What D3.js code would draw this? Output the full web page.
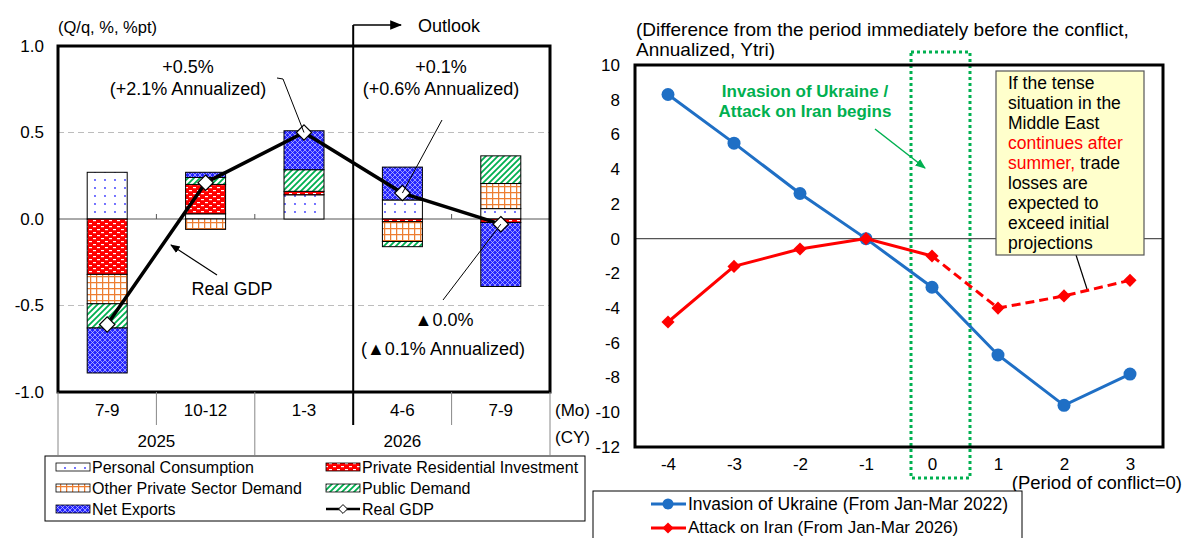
<!DOCTYPE html>
<html>
<head>
<meta charset="utf-8">
<script src="https://cdn.jsdelivr.net/npm/d3@7"></script>
<style>
  body { margin: 0; background: #fff; }
  svg { font-family: "Liberation Sans", Arial, sans-serif; }
</style>
</head>
<body>
<svg id="chart" width="1183" height="538"></svg>
<script>
// ---- left chart data (Q/q, %, %pt) ----
const quarters = ["7-9", "10-12", "1-3", "4-6", "7-9"];
const years = [{label: "2025", from: 0, to: 2}, {label: "2026", from: 2, to: 5}];
const personal     = [0.27, 0.03, 0.14, 0.11, 0.06];
const residential  = [-0.32, 0.17, 0.02, -0.015, -0.02];
const otherPrivate = [-0.17, -0.06, 0.0, -0.115, 0.145];
const publicDemand = [-0.14, 0.04, 0.125, -0.03, 0.16];
const netExports   = [-0.26, 0.03, 0.225, 0.19, -0.37];
const realGDP      = [-0.61, 0.21, 0.5, 0.15, -0.03];
const leftTicks = [1.0, 0.5, 0.0, -0.5, -1.0];

// ---- right chart data (Ytri) ----
const periods = [-4, -3, -2, -1, 0, 1, 2, 3];
const ukraine = [8.3, 5.5, 2.6, 0, -2.8, -6.7, -9.6, -7.8];
const iran    = [-4.8, -1.6, -0.6, 0, -1.0, -4.0, -3.3, -2.4];
const rightTicks = [10, 8, 6, 4, 2, 0, -2, -4, -6, -8, -10, -12];

const svg = d3.select("#chart");
const defs = svg.append("defs");

// fill patterns
const pDots = defs.append("pattern").attr("id", "pDots").attr("patternUnits", "userSpaceOnUse")
  .attr("width", 10).attr("height", 8);
pDots.append("rect").attr("width", 10).attr("height", 8).attr("fill", "#fff");
pDots.append("circle").attr("cx", 5).attr("cy", 4).attr("r", 0.9).attr("fill", "#3333ff");

const pRed = defs.append("pattern").attr("id", "pRed").attr("patternUnits", "userSpaceOnUse")
  .attr("width", 8).attr("height", 6);
pRed.append("rect").attr("width", 8).attr("height", 6).attr("fill", "#ff0000");
pRed.append("rect").attr("x", 1).attr("y", 1).attr("width", 3).attr("height", 1.2).attr("fill", "#fff");
pRed.append("rect").attr("x", 5).attr("y", 4).attr("width", 3).attr("height", 1.2).attr("fill", "#fff");

const pGrid = defs.append("pattern").attr("id", "pGrid").attr("patternUnits", "userSpaceOnUse")
  .attr("width", 6).attr("height", 6);
pGrid.append("rect").attr("width", 6).attr("height", 6).attr("fill", "#fff");
pGrid.append("path").attr("d", "M0,0.6H6M0.6,0V6").attr("stroke", "#ed7d31").attr("stroke-width", 1.3);

const pDiag = defs.append("pattern").attr("id", "pDiag").attr("patternUnits", "userSpaceOnUse")
  .attr("width", 6).attr("height", 6);
pDiag.append("rect").attr("width", 6).attr("height", 6).attr("fill", "#fff");
pDiag.append("path").attr("d", "M-1,1L1,-1M0,6L6,0M5,7L7,5").attr("stroke", "#00b050").attr("stroke-width", 1.8);

const pBlue = defs.append("pattern").attr("id", "pBlue").attr("patternUnits", "userSpaceOnUse")
  .attr("width", 5).attr("height", 5);
pBlue.append("rect").attr("width", 5).attr("height", 5).attr("fill", "#2626ff");
pBlue.append("path").attr("d", "M0,0L5,5M5,0L0,5").attr("stroke", "#c8c8ff").attr("stroke-width", 0.7);

const arrowBlack = defs.append("marker").attr("id", "arrB").attr("viewBox", "0 0 10 10")
  .attr("refX", 9).attr("refY", 5).attr("markerWidth", 8).attr("markerHeight", 8)
  .attr("orient", "auto-start-reverse");
arrowBlack.append("path").attr("d", "M0,1L10,5L0,9z").attr("fill", "#000");
const arrowGreen = defs.append("marker").attr("id", "arrG").attr("viewBox", "0 0 10 10")
  .attr("refX", 9).attr("refY", 5).attr("markerWidth", 7).attr("markerHeight", 7)
  .attr("orient", "auto");
arrowGreen.append("path").attr("d", "M0,1L10,5L0,9z").attr("fill", "#00b050");

// ================= LEFT CHART =================
const L = {left: 58, right: 550, top: 46, bottom: 392};
const x = d3.scaleBand().domain(d3.range(quarters.length)).range([L.left, L.right]);
const y = d3.scaleLinear().domain([-1, 1]).range([L.bottom, L.top]);
const barW = 40;

const left = svg.append("g");

// gridlines
left.selectAll(".grid").data([0.5, -0.5]).join("line")
  .attr("x1", L.left).attr("x2", L.right).attr("y1", d => y(d)).attr("y2", d => y(d))
  .attr("stroke", "#bdbdbd").attr("stroke-width", 1.2).attr("stroke-dasharray", "6,4");
left.append("line").attr("x1", L.left).attr("x2", L.right).attr("y1", y(0)).attr("y2", y(0))
  .attr("stroke", "#555").attr("stroke-width", 1);
left.selectAll(".tk").data(d3.range(1, quarters.length)).join("line")
  .attr("x1", d => x(d)).attr("x2", d => x(d)).attr("y1", y(0)).attr("y2", y(0) - 5)
  .attr("stroke", "#555");

// stacked bars
const keys = ["personal", "residential", "otherPrivate", "publicDemand", "netExports"];
const fills = {personal: "url(#pDots)", residential: "url(#pRed)", otherPrivate: "url(#pGrid)",
               publicDemand: "url(#pDiag)", netExports: "url(#pBlue)"};
const rows = quarters.map((q, i) => ({i, personal: personal[i], residential: residential[i],
  otherPrivate: otherPrivate[i], publicDemand: publicDemand[i], netExports: netExports[i]}));
const stacked = d3.stack().keys(keys).offset(d3.stackOffsetDiverging)(rows);

left.selectAll(".layer").data(stacked).join("g")
  .attr("fill", d => fills[d.key])
  .selectAll("rect").data(d => d.filter(s => Math.abs(s[1] - s[0]) > 0.001)).join("rect")
  .attr("x", d => x(d.data.i) + x.bandwidth() / 2 - barW / 2)
  .attr("width", barW)
  .attr("y", d => y(Math.max(d[0], d[1])))
  .attr("height", d => Math.abs(y(d[0]) - y(d[1])))
  .attr("stroke", "#000").attr("stroke-width", 1);

// Real GDP line
const gdpLine = d3.line().x((d, i) => x(i) + x.bandwidth() / 2).y(d => y(d));
left.append("path").datum(realGDP).attr("d", gdpLine)
  .attr("fill", "none").attr("stroke", "#000").attr("stroke-width", 3.5);
left.selectAll(".dia").data(realGDP).join("path")
  .attr("d", d3.symbol(d3.symbolDiamond2, 150))
  .attr("transform", (d, i) => `translate(${x(i) + x.bandwidth() / 2},${y(d)})`)
  .attr("fill", "#fff").attr("stroke", "#000").attr("stroke-width", 1.2);

// frame
left.append("rect").attr("x", L.left).attr("y", L.top)
  .attr("width", L.right - L.left).attr("height", L.bottom - L.top)
  .attr("fill", "none").attr("stroke", "#000").attr("stroke-width", 3);

// y axis labels
const yAxis = left.append("g").attr("transform", `translate(${L.left},0)`)
  .call(d3.axisLeft(y).tickValues(leftTicks).tickSize(0).tickPadding(14).tickFormat(d => d.toFixed(1)));
yAxis.select(".domain").remove();
yAxis.selectAll("text").attr("font-size", 17).attr("fill", "#000").style("font-family", "Liberation Sans, Arial");
left.append("text").attr("x", 58).attr("y", 33).attr("font-size", 16.5).text("(Q/q, %, %pt)");

// category table
const catG = left.append("g");
catG.selectAll(".sep").data(d3.range(0, quarters.length + 1)).join("line")
  .attr("x1", d => x(d) === undefined ? L.right : x(d)).attr("x2", d => x(d) === undefined ? L.right : x(d))
  .attr("y1", L.bottom).attr("y2", d => (d === 0 || d === 2 || d === quarters.length) ? 455 : 425)
  .attr("stroke", "#888").attr("stroke-width", 1);
catG.selectAll(".q").data(quarters).join("text")
  .attr("x", (d, i) => x(i) + x.bandwidth() / 2).attr("y", 416)
  .attr("text-anchor", "middle").attr("font-size", 17).text(d => d);
catG.selectAll(".yr").data(years).join("text")
  .attr("x", d => (x(d.from) + (d.to < quarters.length ? x(d.to) : L.right)) / 2).attr("y", 447)
  .attr("text-anchor", "middle").attr("font-size", 17).text(d => d.label);
left.append("text").attr("x", 555).attr("y", 416).attr("font-size", 17).text("(Mo)");
left.append("text").attr("x", 555).attr("y", 443).attr("font-size", 17).text("(CY)");

// outlook divider
const divX = x(3);
left.append("line").attr("x1", divX).attr("x2", divX).attr("y1", 25).attr("y2", 425)
  .attr("stroke", "#000").attr("stroke-width", 2);
left.append("line").attr("x1", divX).attr("x2", 401).attr("y1", 25).attr("y2", 25)
  .attr("stroke", "#000").attr("stroke-width", 1.5).attr("marker-end", "url(#arrB)");
left.append("text").attr("x", 418).attr("y", 32).attr("font-size", 18).text("Outlook");

// annotations
const ann = left.append("g").attr("font-size", 18).attr("text-anchor", "middle");
ann.append("text").attr("x", 188).attr("y", 73).text("+0.5%");
ann.append("text").attr("x", 188).attr("y", 95).text("(+2.1% Annualized)");
ann.append("path").attr("d", `M277,78L283,79L${x(2) + x.bandwidth() / 2},${y(realGDP[2])}`)
  .attr("fill", "none").attr("stroke", "#000").attr("stroke-width", 1);
ann.append("text").attr("x", 441).attr("y", 73).text("+0.1%");
ann.append("text").attr("x", 441).attr("y", 95).text("(+0.6% Annualized)");
ann.append("line").attr("x1", 442).attr("y1", 120).attr("x2", x(3) + x.bandwidth() / 2).attr("y2", y(realGDP[3]))
  .attr("stroke", "#000").attr("stroke-width", 1);
ann.append("text").attr("x", 232).attr("y", 295).text("Real GDP");
ann.append("line").attr("x1", 217).attr("y1", 275).attr("x2", 171).attr("y2", 245)
  .attr("stroke", "#000").attr("stroke-width", 1.2).attr("marker-end", "url(#arrB)");
ann.append("text").attr("x", 444).attr("y", 326).text("▲0.0%");
ann.append("text").attr("x", 443).attr("y", 355).text("(▲0.1% Annualized)");
ann.append("line").attr("x1", 443).attr("y1", 300).attr("x2", x(4) + x.bandwidth() / 2).attr("y2", y(realGDP[4]))
  .attr("stroke", "#000").attr("stroke-width", 1);

// left legend
const lg = left.append("g");
lg.append("rect").attr("x", 45).attr("y", 456).attr("width", 540).attr("height", 65)
  .attr("fill", "#fff").attr("stroke", "#000").attr("stroke-width", 1);
const legItems = [
  {label: "Personal Consumption", fill: fills.personal, col: 0, row: 0},
  {label: "Private Residential Investment", fill: fills.residential, col: 1, row: 0},
  {label: "Other Private Sector Demand", fill: fills.otherPrivate, col: 0, row: 1},
  {label: "Public Demand", fill: fills.publicDemand, col: 1, row: 1},
  {label: "Net Exports", fill: fills.netExports, col: 0, row: 2},
  {label: "Real GDP", fill: null, col: 1, row: 2}
];
const legX = [56, 326], legY = [467, 488, 509];
legItems.forEach(d => {
  const gx = legX[d.col], gy = legY[d.row];
  if (d.fill) {
    lg.append("rect").attr("x", gx).attr("y", gy - 4).attr("width", 34).attr("height", 8)
      .attr("fill", d.fill).attr("stroke", "#000").attr("stroke-width", 0.8);
  } else {
    lg.append("line").attr("x1", gx).attr("x2", gx + 34).attr("y1", gy).attr("y2", gy)
      .attr("stroke", "#000").attr("stroke-width", 2.5);
    lg.append("path").attr("d", d3.symbol(d3.symbolDiamond2, 50))
      .attr("transform", `translate(${gx + 17},${gy})`).attr("fill", "#fff").attr("stroke", "#000");
  }
  lg.append("text").attr("x", gx + 36).attr("y", gy + 6).attr("font-size", 16).text(d.label);
});

// ================= RIGHT CHART =================
const R = {left: 635, right: 1163, top: 65, bottom: 447};
const xr = d3.scalePoint().domain(periods).range([R.left, R.right]).padding(0.5);
const yr = d3.scaleLinear().domain([-12, 10]).range([R.bottom, R.top]);
const right = svg.append("g");

right.append("line").attr("x1", R.left).attr("x2", R.right).attr("y1", yr(0)).attr("y2", yr(0))
  .attr("stroke", "#555").attr("stroke-width", 1.2);

// highlighted period box
right.append("rect").attr("x", 911).attr("y", 52).attr("width", 59).attr("height", 426)
  .attr("fill", "none").attr("stroke", "#00b050").attr("stroke-width", 3).attr("stroke-dasharray", "3,3");

// Ukraine line
const lineR = d3.line().x((d, i) => xr(periods[i])).y(d => yr(d));
right.append("path").datum(ukraine).attr("d", lineR)
  .attr("fill", "none").attr("stroke", "#1f6fc5").attr("stroke-width", 3);
right.selectAll(".uk").data(ukraine).join("circle")
  .attr("cx", (d, i) => xr(periods[i])).attr("cy", d => yr(d)).attr("r", 6.5).attr("fill", "#1f6fc5");

// Iran line: actual (solid) to period 0, projection (dashed) after
const iranIdx = iran.map((v, i) => ({p: periods[i], v}));
const lineI = d3.line().x(d => xr(d.p)).y(d => yr(d.v));
right.append("path").datum(iranIdx.filter(d => d.p <= 0)).attr("d", lineI)
  .attr("fill", "none").attr("stroke", "#ff0000").attr("stroke-width", 3);
right.append("path").datum(iranIdx.filter(d => d.p >= 0)).attr("d", lineI)
  .attr("fill", "none").attr("stroke", "#ff0000").attr("stroke-width", 3).attr("stroke-dasharray", "9,5");
right.selectAll(".ir").data(iranIdx).join("path")
  .attr("d", d3.symbol(d3.symbolDiamond2, 110))
  .attr("transform", d => `translate(${xr(d.p)},${yr(d.v)})`).attr("fill", "#ff0000");

// frame
right.append("rect").attr("x", R.left).attr("y", R.top)
  .attr("width", R.right - R.left).attr("height", R.bottom - R.top)
  .attr("fill", "none").attr("stroke", "#000").attr("stroke-width", 3);

// axes
const yrAxis = right.append("g").attr("transform", `translate(${R.left},0)`)
  .call(d3.axisLeft(yr).tickValues(rightTicks).tickSize(0).tickPadding(15).tickFormat(d => String(d)));
yrAxis.select(".domain").remove();
yrAxis.selectAll("text").attr("font-size", 17).attr("fill", "#000").style("font-family", "Liberation Sans, Arial");
const xrAxis = right.append("g").attr("transform", `translate(0,${R.bottom})`)
  .call(d3.axisBottom(xr).tickSize(0).tickPadding(11).tickFormat(d => String(d)));
xrAxis.select(".domain").remove();
xrAxis.selectAll("text").attr("font-size", 17).attr("fill", "#000").style("font-family", "Liberation Sans, Arial");

right.append("text").attr("x", 636).attr("y", 36).attr("font-size", 19)
  .text("(Difference from the period immediately before the conflict,");
right.append("text").attr("x", 636).attr("y", 56).attr("font-size", 19).text("Annualized, Ytri)");
right.append("text").attr("x", 1182).attr("y", 489).attr("font-size", 18.5).attr("text-anchor", "end")
  .text("(Period of conflict=0)");

// green annotation
right.append("text").attr("x", 805).attr("y", 97).attr("font-size", 17).attr("font-weight", "bold")
  .attr("fill", "#00b050").attr("text-anchor", "middle").text("Invasion of Ukraine /");
right.append("text").attr("x", 805).attr("y", 117).attr("font-size", 17).attr("font-weight", "bold")
  .attr("fill", "#00b050").attr("text-anchor", "middle").text("Attack on Iran begins");
right.append("line").attr("x1", 875).attr("y1", 129).attr("x2", 925).attr("y2", 168)
  .attr("stroke", "#00b050").attr("stroke-width", 1.5).attr("marker-end", "url(#arrG)");

// yellow note
right.append("line").attr("x1", 1076).attr("y1", 255).attr("x2", 1087).attr("y2", 289)
  .attr("stroke", "#000").attr("stroke-width", 1.2);
right.append("rect").attr("x", 996).attr("y", 71).attr("width", 148).attr("height", 184)
  .attr("fill", "#ffffcc").attr("stroke", "#555").attr("stroke-width", 1.2);
const noteLines = [
  [{t: "If the tense", c: "#000"}],
  [{t: "situation in the", c: "#000"}],
  [{t: "Middle East", c: "#000"}],
  [{t: "continues after", c: "#ff0000"}],
  [{t: "summer,", c: "#ff0000"}, {t: " trade", c: "#000"}],
  [{t: "losses are", c: "#000"}],
  [{t: "expected to", c: "#000"}],
  [{t: "exceed initial", c: "#000"}],
  [{t: "projections", c: "#000"}]
];
noteLines.forEach((ln, i) => {
  const t = right.append("text").attr("x", 1008).attr("y", 89 + i * 20).attr("font-size", 17.5);
  ln.forEach(s => t.append("tspan").attr("fill", s.c).text(s.t));
});

// right legend
const rl = right.append("g");
rl.append("rect").attr("x", 593).attr("y", 491).attr("width", 429).attr("height", 60)
  .attr("fill", "#fff").attr("stroke", "#000").attr("stroke-width", 1);
rl.append("line").attr("x1", 651).attr("x2", 686).attr("y1", 504).attr("y2", 504)
  .attr("stroke", "#1f6fc5").attr("stroke-width", 3);
rl.append("circle").attr("cx", 668).attr("cy", 504).attr("r", 5.5).attr("fill", "#1f6fc5");
rl.append("text").attr("x", 688).attr("y", 510).attr("font-size", 17.5).text("Invasion of Ukraine (From Jan-Mar 2022)");
rl.append("line").attr("x1", 651).attr("x2", 686).attr("y1", 528).attr("y2", 528)
  .attr("stroke", "#ff0000").attr("stroke-width", 3);
rl.append("path").attr("d", d3.symbol(d3.symbolDiamond2, 80))
  .attr("transform", "translate(668,528)").attr("fill", "#ff0000");
rl.append("text").attr("x", 688).attr("y", 533).attr("font-size", 17).text("Attack on Iran (From Jan-Mar 2026)");
</script>
</body>
</html>
